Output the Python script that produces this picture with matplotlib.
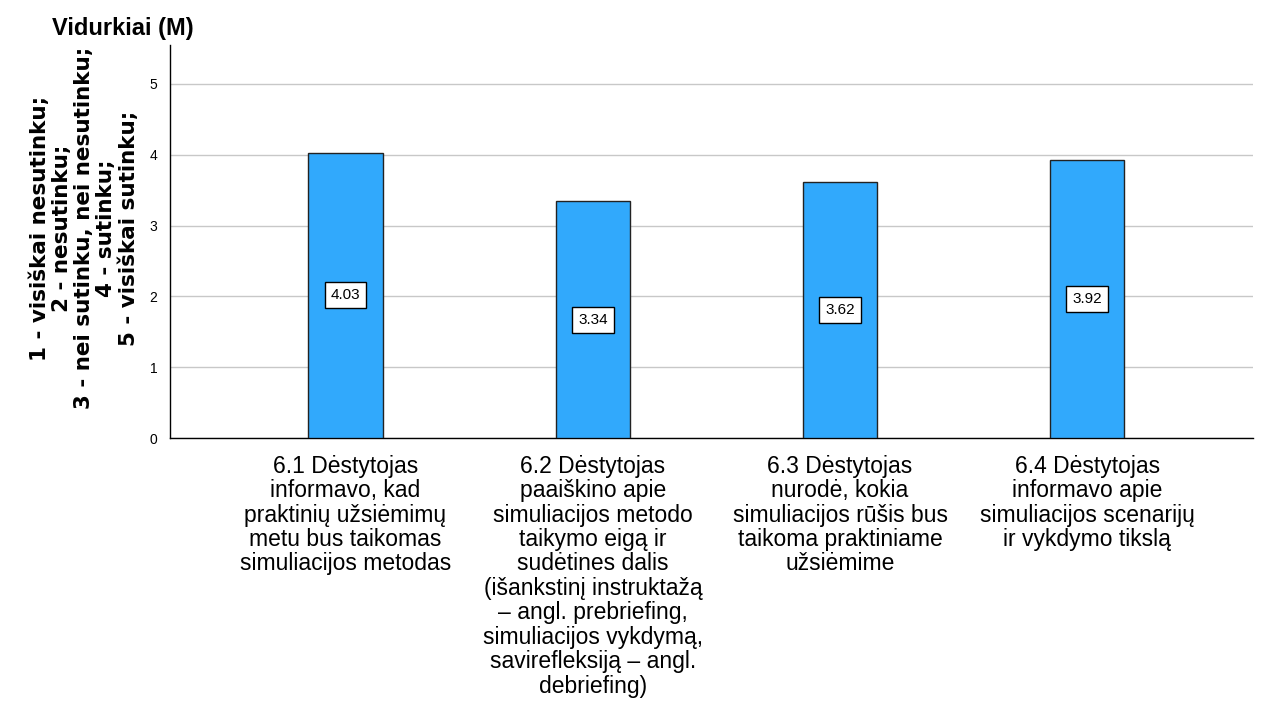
import matplotlib.pyplot as plt

plt.rcParams['font.family'] = ['Liberation Sans', 'DejaVu Sans']

categories = [
    "6.1 Dėstytojas\ninformavo, kad\npraktinių užsiėmimų\nmetu bus taikomas\nsimuliacijos metodas",
    "6.2 Dėstytojas\npaaiškino apie\nsimuliacijos metodo\ntaikymo eigą ir\nsudėtines dalis\n(išankstinį instruktažą\n– angl. prebriefing,\nsimuliacijos vykdymą,\nsavirefleksiją – angl.\ndebriefing)",
    "6.3 Dėstytojas\nnurodė, kokia\nsimuliacijos rūšis bus\ntaikoma praktiniame\nužsiėmime",
    "6.4 Dėstytojas\ninformavo apie\nsimuliacijos scenarijų\nir vykdymo tikslą",
]
means = [4.03, 3.34, 3.62, 3.92]
y_ticks = [0, 1, 2, 3, 4, 5]

ylabel = ("1 - visiškai nesutinku;\n2 - nesutinku;\n3 - nei sutinku, nei nesutinku;\n"
          "4 - sutinku;\n5 - visiškai sutinku;")

fig = plt.figure(figsize=(12.7, 7.01), dpi=100)
ax = fig.add_axes([170 / 1270, 1 - 438 / 701, 1083 / 1270, 393 / 701])

x = list(range(len(means)))
ax.bar(x, means, width=0.30, color="#31a9fc", edgecolor="#222222", linewidth=1.0, zorder=3)

for xi, m in zip(x, means):
    ax.text(xi, m / 2, f"{m:.2f}", ha="center", va="center", fontsize=11, zorder=4,
            bbox=dict(boxstyle="square,pad=0.4", fc="white", ec="black", lw=1.0))

ax.set_xlim(-0.71, 3.67)
ax.set_ylim(0, 5.55)
ax.set_yticks(y_ticks)
ax.set_yticklabels([str(t) for t in y_ticks], fontsize=10)
ax.set_xticks(x)
ax.set_xticklabels(categories, fontsize=16.5, linespacing=1.08, va="top")
ax.tick_params(axis="y", length=0, pad=9)
ax.tick_params(axis="x", length=0, pad=12)
ax.yaxis.grid(True, color="#c8c8c8", linewidth=1.0, zorder=0)
ax.set_axisbelow(True)
for s in ["top", "right"]:
    ax.spines[s].set_visible(False)
for s in ["left", "bottom"]:
    ax.spines[s].set_color("black")
    ax.spines[s].set_linewidth(1.0)

fig.text(84 / 1270, 1 - 228 / 701, ylabel, rotation=90, ha="center", va="center",
         multialignment="center", fontsize=15.5, fontweight="bold", linespacing=1.13,
         family="DejaVu Sans")
fig.text(52 / 1270, 1 - 28 / 701, "Vidurkiai (M)", fontsize=17, fontweight="bold",
         ha="left", va="center")

fig.savefig("out.png", dpi=100, facecolor="white")
